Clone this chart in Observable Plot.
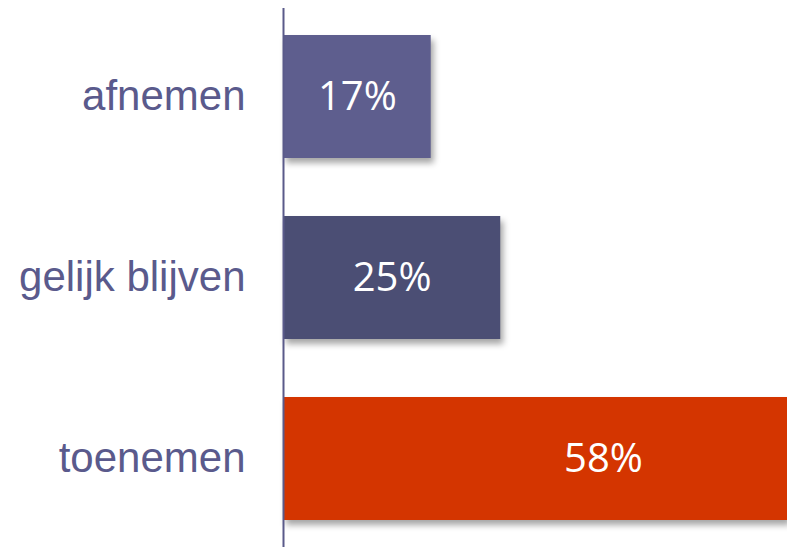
<!DOCTYPE html>
<html>
<head>
<meta charset="utf-8">
<script src="https://cdn.jsdelivr.net/npm/d3@7"></script>
<script src="https://cdn.jsdelivr.net/npm/@observablehq/plot@0.6"></script>
<style>
  html, body { margin: 0; padding: 0; background: #fff; }
  #chart svg { display: block; }
</style>
</head>
<body>
<div id="chart"></div>
<script>
const categories = ["afnemen", "gelijk blijven", "toenemen"];
const values = [17, 25, 58];
const barColors = ["#5e5e8e", "#4b4e74", "#d43500"];
const valueLabels = ["17%", "25%", "58%"];

const data = categories.map((c, i) => ({category: c, value: values[i], label: valueLabels[i], color: barColors[i]}));
const fits = data.filter(d => d.value < 50);
const wide = data.filter(d => d.value >= 50);

const chart = Plot.plot({
  width: 787,
  height: 547,
  marginLeft: 283,
  marginRight: 0,
  marginTop: 8,
  marginBottom: 0,
  x: {domain: [0, 58], axis: null},
  y: {domain: categories, paddingInner: 0.32, paddingOuter: 0.145, label: null},
  style: {background: "#fff"},
  marks: [
    Plot.barX(data, {x: "value", y: "category", fill: d => d.color}),
    Plot.ruleX([0], {stroke: "#5a5a8a", strokeWidth: 2}),
    Plot.axisY({tickSize: 0, tickPadding: 38, fontSize: 42, fill: "#5a5a8c", fontFamily: "Liberation Sans, Arial, sans-serif", label: null}),
    Plot.text(fits, {x: d => d.value / 2, y: "category", text: "label", fill: "#fff", fontSize: 40, fontFamily: "Open Sans, sans-serif"}),
    Plot.text(wide, {x: d => d.value / 2, y: "category", text: "label", fill: "#fff", fontSize: 40, fontFamily: "Open Sans, sans-serif", dx: 68})
  ]
});
document.getElementById("chart").appendChild(chart);
d3.select(chart).selectAll("g[aria-label=bar] rect")
  .style("filter", "drop-shadow(3px 5px 3px rgba(0,0,0,0.35))");
d3.select(chart).selectAll("g[aria-label='y-axis tick label'] text, g[aria-label='y-axis tick label']")
  .attr("fill", "#5a5a8c");
</script>
</body>
</html>
